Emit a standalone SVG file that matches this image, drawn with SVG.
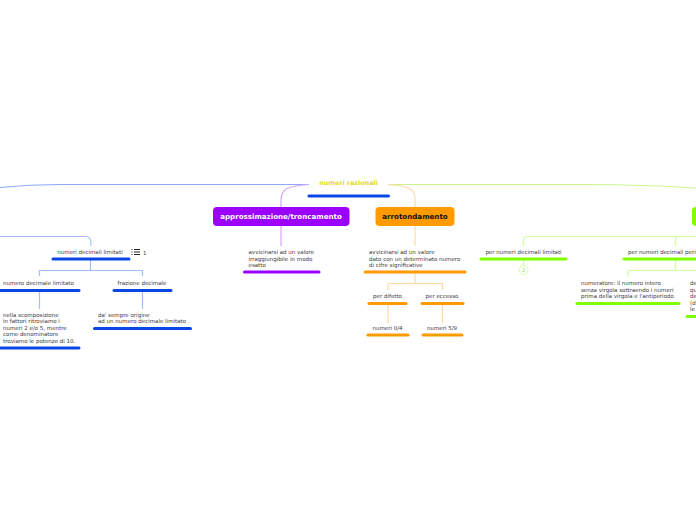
<svg xmlns="http://www.w3.org/2000/svg" width="696" height="520" viewBox="0 0 696 520">
<style>
text{font-family:"DejaVu Sans",Verdana,sans-serif;font-size:5.5px;fill:#3a3a3a}
.u{fill:none;stroke-width:3;stroke-linecap:round}
.c{fill:none;stroke-width:1.2}
.blue{stroke:#0a46e6}.org{stroke:#ff9a00}.pur{stroke:#9b00ff}.grn{stroke:#7fff00}
.lb{stroke:#a3bcfb}.lo{stroke:#ffd9a6}.lp{stroke:#d9a6ff}.lg{stroke:#cfff9e}
.m{text-anchor:middle}
.h{font-size:7.1px;font-weight:bold;text-anchor:middle}
</style>
<g id="connectors">
<path class="c" stroke="#8fa9f7" d="M309 184.500H60C35 184.500 15 186 0 187.500"/>
<path class="c" stroke="#cdf58f" d="M388 184.500H590C630 184.500 665 186 696 188"/>
<path class="c lp" d="M308 184.500C290 186 281 188 281 200V208"/>
<path class="c lo" d="M388 184.500C408 186 415 188 415 200V208"/>
<path class="c lp" d="M281 226V246"/>
<path class="c lo" d="M415 226V246"/>
<path class="c lb" d="M0 236.500H85Q91 236.500 91 243V246"/>
<path class="c lb" d="M90.500 260V270.500M39.500 276V270.500H142.500V276"/>
<path class="c lb" d="M39.500 291V309M142.500 291V309"/>
<path class="c lo" d="M415 273V283.500M388 290V283.500H442.500V290"/>
<path class="c lo" d="M388 305V323M442.500 305V323"/>
<path class="c lg" d="M523.500 246V240Q523.500 236.500 528 236.500H696M675.500 246V240Q675.500 236.500 680 236.500"/>
<path class="c lg" d="M523.500 260V265"/>
<path class="c lg" d="M675.500 260V270.500M628 277V270.500H696"/>
</g>
<g id="root"><text x="348.500" y="185" class="m" style="font-size:6.400px;font-weight:bold;fill:#e3d91c">numeri razionali</text><path class="u blue" d="M309 196H388.500"/></g>
<g id="approx"><rect x="213" y="207" width="136.500" height="19" rx="4" fill="#9b00ff"/><text x="281" y="219" class="h" style="fill:#fff">approssimazione/troncamento</text></g>
<g id="arrot"><rect x="375.500" y="207" width="79" height="19" rx="4" fill="#ff9a00"/><text x="415" y="219" class="h" style="fill:#111">arrotondamento</text></g>
<g id="green-node"><rect x="692" y="207" width="20" height="19" rx="4" fill="#7fff00"/></g>
<g id="n1"><text x="90" y="254" class="m">numeri decimali limitati</text><path class="u blue" d="M53 259H129"/>
<g fill="none" stroke="#222" stroke-width="1"><path d="M134 249.500H140M134 252H140M134 254.500H140"/></g><path d="M131.500 249.500h1M131.500 252h1M131.500 254.500h1" stroke="#222"/><text x="143" y="254.500">1</text></g>
<g id="n2"><text x="3" y="285">numero decimale limitato</text><path class="u blue" d="M0 290.500H79"/></g>
<g id="n3"><text x="142" y="285" class="m">frazione decimale</text><path class="u blue" d="M114 290.500H171"/></g>
<g id="n4"><text x="3" y="317">nella scomposizione</text><text x="3" y="323.300">in fattori ritroviamo i</text><text x="3" y="329.600">numeri 2 e/o 5, mentre</text><text x="3" y="336">come denominatore</text><text x="3" y="342.500">troviamo le potenze di 10.</text><path class="u blue" d="M0 348H79"/></g>
<g id="n5"><text x="98" y="317">da' sempre origine</text><text x="98" y="323.300">ad un numero decimale limitato</text><path class="u blue" d="M94.500 328.500H190.500"/></g>
<g id="n6"><text x="248.500" y="254">avvicinarsi ad un valore</text><text x="248.500" y="260.500">irraggiungibile in modo</text><text x="248.500" y="267">esatto</text><path class="u pur" d="M244.500 272H319"/></g>
<g id="n7"><text x="369" y="254">avvicinarsi ad un valore</text><text x="369" y="260.500">dato con un determinato numero</text><text x="369" y="267">di cifre significative</text><path class="u org" d="M365 272H465"/></g>
<g id="n8"><text x="387.500" y="298" class="m">per difetto</text><path class="u org" d="M369 303.500H406"/></g>
<g id="n9"><text x="442" y="298" class="m">per eccesso</text><path class="u org" d="M422 303.500H463"/></g>
<g id="n10"><text x="387.500" y="330" class="m">numeri 0/4</text><path class="u org" d="M368 335H408"/></g>
<g id="n11"><text x="442" y="330" class="m">numeri 5/9</text><path class="u org" d="M423 335H462"/></g>
<g id="n12"><text x="523.500" y="254" class="m">per numeri decimali limitati</text><path class="u grn" d="M481 259H566"/><circle cx="523.500" cy="270" r="4.500" fill="#fff" stroke="#cfff9e"/><text x="523.500" y="272" class="m" style="font-size:5px;fill:#9fdc5a">2</text></g>
<g id="n13"><text x="628" y="254">per numeri decimali periodici</text><path class="u grn" d="M624 259H696"/></g>
<g id="n14"><text x="581" y="285">numeratore: il numero intero</text><text x="581" y="292">senza virgola sottraendo i numeri</text><text x="581" y="298">prima della virgola e l'antiperiodo</text><path class="u grn" d="M577 303.500H679"/></g>
<g id="n15"><text x="690" y="285">denominatore</text><text x="690" y="292">quanti</text><text x="690" y="298">dell'</text><text x="690" y="304.500">(d</text><text x="690" y="311">le</text><path class="u grn" d="M687 316.500H696"/></g>
</svg>
